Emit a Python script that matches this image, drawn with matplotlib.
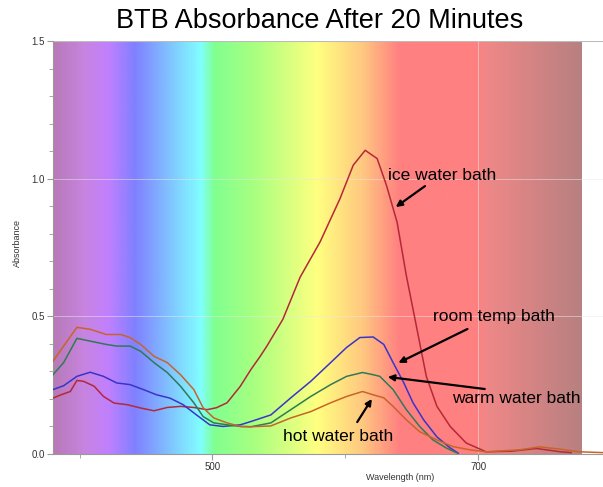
import numpy as np
import matplotlib
matplotlib.use("Agg")
import matplotlib.pyplot as plt
from matplotlib.colors import LinearSegmentedColormap
from matplotlib.ticker import FixedLocator, MultipleLocator

plt.rcParams['font.family'] = ['Liberation Sans', 'DejaVu Sans']

# данные
ice_wl = [380, 386, 393, 398, 403, 411, 418, 426, 436, 446, 456, 466, 476, 486, 496, 503, 511, 521,
          529, 536, 541, 553, 566, 581, 596, 606, 615, 624, 631, 639, 646, 654, 661, 669, 679, 691,
          706, 725, 744, 762, 770]
ice_abs = [.203, .215, .227, .267, .264, .246, .209, .185, .179, .167, .157, .169, .173, .169, .161,
           .168, .186, .246, .307, .355, .392, .489, .642, .77, .927, 1.049, 1.103, 1.073, .976, .842,
           .647, .453, .282, .173, .10, .04, .008, .01, .02, .008, .005]

room_wl = [380, 388, 398, 408, 418, 428, 438, 448, 458, 468, 478, 488, 498, 508, 521, 529, 544, 559,
           574, 589, 601, 611, 621, 629, 636, 644, 651, 659, 669, 679, 685]
room_abs = [.234, .248, .282, .297, .282, .258, .252, .234, .215, .203, .179, .142, .106, .10, .106,
            .118, .142, .204, .264, .332, .387, .423, .425, .398, .332, .259, .186, .124, .062, .022,
            .003]

warm_wl = [380, 388, 398, 408, 420, 428, 438, 446, 456, 466, 476, 486, 493, 501, 511, 521, 529, 544,
           559, 574, 589, 601, 613, 621, 626, 636, 646, 656, 666, 676, 684]
warm_abs = [.288, .332, .42, .41, .398, .392, .392, .373, .332, .296, .246, .186, .136, .113, .106,
            .10, .099, .113, .161, .209, .252, .282, .296, .288, .282, .234, .161, .10, .051, .022,
            .004]

hot_wl = [380, 388, 398, 408, 420, 431, 438, 446, 456, 466, 476, 486, 493, 501, 511, 521, 529, 544,
          559, 574, 589, 601, 613, 621, 629, 636, 646, 656, 669, 681, 694, 706, 731, 746, 761, 776, 794]
hot_abs = [.337, .392, .46, .453, .434, .434, .423, .398, .355, .332, .288, .234, .168, .131, .113,
           .10, .099, .102, .131, .154, .186, .209, .227, .215, .204, .173, .124, .081, .051, .027,
           .015, .008, .015, .026, .018, .008, .005]

# фон-спектр
spec_nm = [380, 403, 421, 441, 466, 491, 501, 531, 579, 613, 641, 699, 706, 778]
spec_col = ['#b87ab8', '#c884e0', '#c080ff', '#8080ff', '#80c0ff', '#80ffff', '#80ff90', '#a8ff80',
            '#ffff80', '#ffc880', '#ff8080', '#ff8080', '#f08888', '#b88080']

fig = plt.figure(figsize=(6.03, 4.87), dpi=100)
ax = fig.add_axes([53 / 603, 33 / 487, 1 - 53 / 603, 413 / 487])

lo, hi = spec_nm[0], spec_nm[-1]
cmap = LinearSegmentedColormap.from_list(
    'spec', [((n - lo) / (hi - lo), c) for n, c in zip(spec_nm, spec_col)])
grad = np.linspace(0, 1, 800).reshape(1, -1)
ax.imshow(grad, cmap=cmap, aspect='auto', extent=[lo, hi, 0, 1.5], zorder=0)

ax.set_xlim(380, 794)
ax.set_ylim(0, 1.5)

for y in [0.5, 1.0, 1.5]:
    ax.axhline(y, color='#e8e8e8', lw=0.6, alpha=0.6, zorder=1)
ax.axhline(1.5, color='#bbbbbb', lw=0.8, zorder=1)
ax.axvline(700, color='#e8e8e8', lw=0.6, alpha=0.6, zorder=1)

ax.plot(ice_wl, ice_abs, color='#b5283a', lw=1.1, zorder=3)
ax.plot(room_wl, room_abs, color='#3a34c8', lw=1.1, zorder=3)
ax.plot(warm_wl, warm_abs, color='#2f7a55', lw=1.1, zorder=3)
ax.plot(hot_wl, hot_abs, color='#c8642a', lw=1.1, zorder=3)

arrow = dict(arrowstyle='-|>', color='black', lw=1.6, mutation_scale=9, shrinkA=0, shrinkB=0)
ax.annotate('', xy=(638, 0.897), xytext=(660, 0.973), arrowprops=arrow)
ax.text(632, 1.013, 'ice water bath', fontsize=12.5, va='center', ha='left')
ax.annotate('', xy=(640, 0.331), xytext=(692, 0.454), arrowprops=arrow)
ax.text(666, 0.498, 'room temp bath', fontsize=12.5, va='center', ha='left')
ax.annotate('', xy=(632, 0.28), xytext=(705, 0.236), arrowprops=arrow)
ax.text(680, 0.2, 'warm water bath', fontsize=12.5, va='center', ha='left')
ax.annotate('', xy=(620, 0.2), xytext=(609, 0.116), arrowprops=arrow)
ax.text(553, 0.065, 'hot water bath', fontsize=12.5, va='center', ha='left')

ax.xaxis.set_major_locator(FixedLocator([500, 700]))
ax.xaxis.set_minor_locator(FixedLocator([400, 600, 800]))
ax.yaxis.set_major_locator(FixedLocator([0, 0.5, 1.0, 1.5]))
ax.yaxis.set_minor_locator(MultipleLocator(0.1))
ax.set_yticklabels(['0.0', '0.5', '1.0', '1.5'])
ax.tick_params(which='both', direction='out', color='#999999', labelsize=7, labelcolor='#333333')
ax.tick_params(which='major', length=4, pad=2)
ax.tick_params(which='minor', length=3)

for s in ['top', 'right']:
    ax.spines[s].set_visible(False)
for s in ['left', 'bottom']:
    ax.spines[s].set_color('#999999')
    ax.spines[s].set_linewidth(0.8)

fig.text(400 / 603, 1 - 478 / 487, 'Wavelength (nm)', fontsize=6.5, ha='center', va='center',
         color='#333333')
fig.text(17 / 603, 1 - 243 / 487, 'Absorbance', fontsize=6.5, rotation=90, ha='center',
         va='center', color='#333333')
fig.text(320 / 603, 1 - 21 / 487, 'BTB Absorbance After 20 Minutes', fontsize=19.5,
         ha='center', va='center')

fig.savefig('out.png', dpi=100)
